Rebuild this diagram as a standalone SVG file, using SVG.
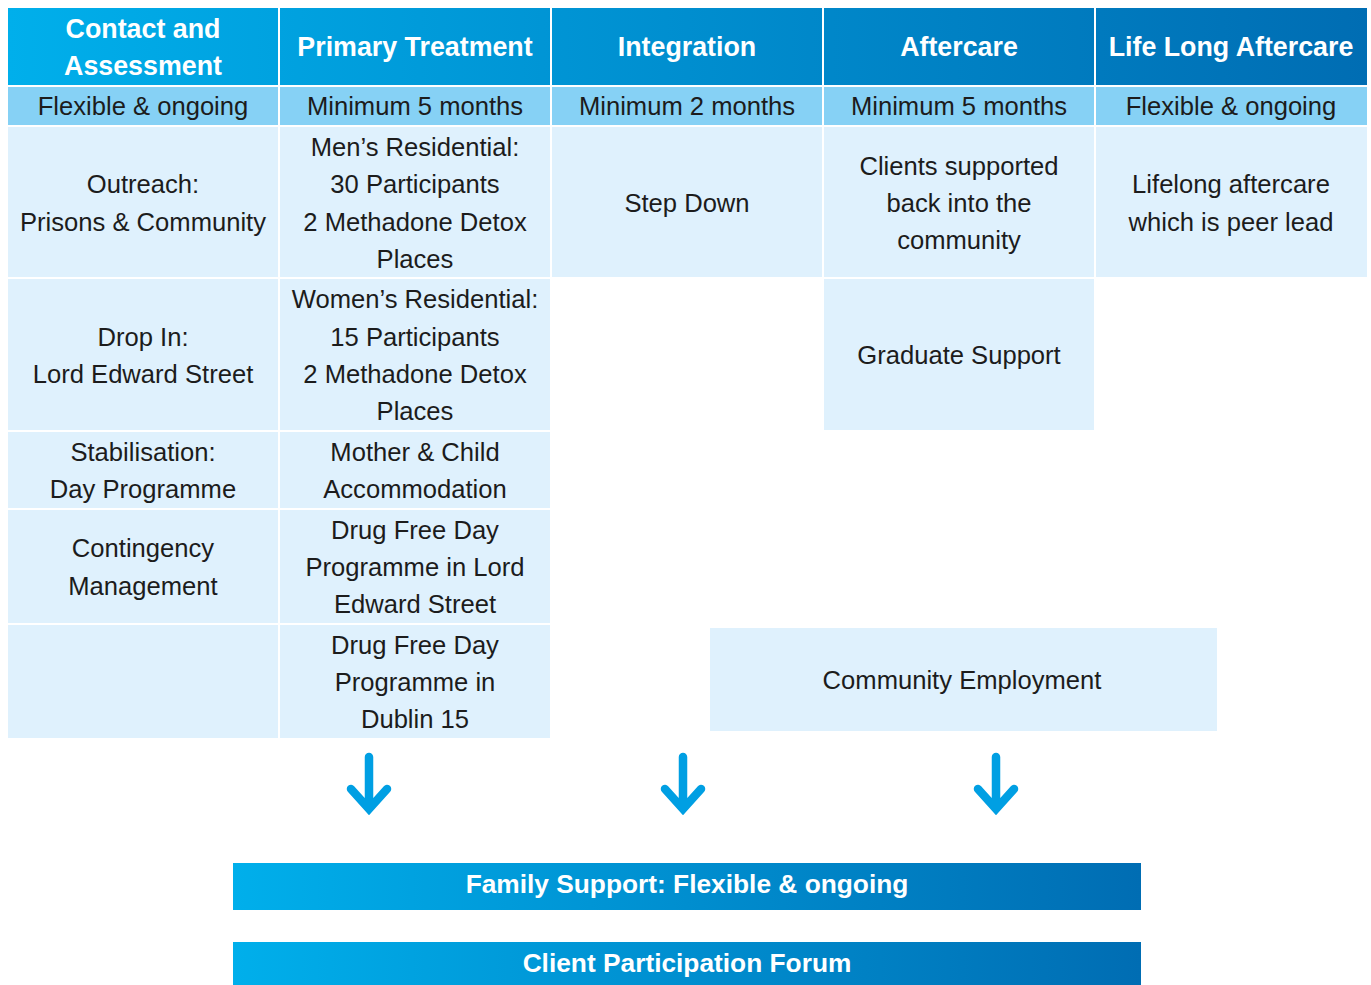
<svg xmlns="http://www.w3.org/2000/svg" width="1371" height="985" viewBox="0 0 1371 985">
<defs>
<linearGradient id="hdr" gradientUnits="userSpaceOnUse" x1="8" y1="0" x2="1367" y2="0">
<stop offset="0" stop-color="#00afeb"/><stop offset="1" stop-color="#006db3"/>
</linearGradient>
<linearGradient id="bar" gradientUnits="userSpaceOnUse" x1="233" y1="0" x2="1141" y2="0">
<stop offset="0" stop-color="#00afeb"/><stop offset="1" stop-color="#006db3"/>
</linearGradient>
<style>
.h{fill:url(#hdr)}
.d{fill:#86d1f5}
.c{fill:#dff1fd}
.ht{font-family:"Liberation Sans",Arial,sans-serif;font-weight:bold;font-size:26.8px;fill:#fff;text-anchor:middle}
.bt{font-family:"Liberation Sans",Arial,sans-serif;font-weight:bold;font-size:26.3px;fill:#fff;text-anchor:middle}
.t{font-family:"Liberation Sans",Arial,sans-serif;font-size:25.6px;fill:#1c1c1c;text-anchor:middle}
.arr{fill:none;stroke:#009fe3;stroke-width:8.5;stroke-linecap:round;stroke-linejoin:miter}
</style>
</defs>
<rect width="1371" height="985" fill="#fff"/>

<g id="header">
<rect class="h" x="8" y="8" width="270" height="77"/>
<rect class="h" x="280" y="8" width="270" height="77"/>
<rect class="h" x="552" y="8" width="270" height="77"/>
<rect class="h" x="824" y="8" width="270" height="77"/>
<rect class="h" x="1096" y="8" width="271" height="77"/>
<text class="ht" x="143" y="38">Contact and</text>
<text class="ht" x="143" y="75">Assessment</text>
<text class="ht" x="415" y="56">Primary Treatment</text>
<text class="ht" x="687" y="56">Integration</text>
<text class="ht" x="959" y="56">Aftercare</text>
<text class="ht" x="1231" y="56">Life Long Aftercare</text>
</g>

<g id="durations">
<rect class="d" x="8" y="87" width="270" height="38"/>
<rect class="d" x="280" y="87" width="270" height="38"/>
<rect class="d" x="552" y="87" width="270" height="38"/>
<rect class="d" x="824" y="87" width="270" height="38"/>
<rect class="d" x="1096" y="87" width="271" height="38"/>
<text class="t" x="143" y="115">Flexible &amp; ongoing</text>
<text class="t" x="415" y="115">Minimum 5 months</text>
<text class="t" x="687" y="115">Minimum 2 months</text>
<text class="t" x="959" y="115">Minimum 5 months</text>
<text class="t" x="1231" y="115">Flexible &amp; ongoing</text>
</g>

<g id="outreach">
<rect class="c" x="8" y="127" width="270" height="150"/>
<text class="t" x="143" y="193">Outreach:</text>
<text class="t" x="143" y="231">Prisons &amp; Community</text>
</g>
<g id="mens-residential">
<rect class="c" x="280" y="127" width="270" height="150"/>
<text class="t" x="415" y="156">Men’s Residential:</text>
<text class="t" x="415" y="193">30 Participants</text>
<text class="t" x="415" y="231">2 Methadone Detox</text>
<text class="t" x="415" y="268">Places</text>
</g>
<g id="step-down">
<rect class="c" x="552" y="127" width="270" height="150"/>
<text class="t" x="687" y="212">Step Down</text>
</g>
<g id="clients-supported">
<rect class="c" x="824" y="127" width="270" height="150"/>
<text class="t" x="959" y="175">Clients supported</text>
<text class="t" x="959" y="212">back into the</text>
<text class="t" x="959" y="249">community</text>
</g>
<g id="lifelong">
<rect class="c" x="1096" y="127" width="271" height="150"/>
<text class="t" x="1231" y="193">Lifelong aftercare</text>
<text class="t" x="1231" y="231">which is peer lead</text>
</g>

<g id="drop-in">
<rect class="c" x="8" y="279" width="270" height="151"/>
<text class="t" x="143" y="346">Drop In:</text>
<text class="t" x="143" y="383">Lord Edward Street</text>
</g>
<g id="womens-residential">
<rect class="c" x="280" y="279" width="270" height="151"/>
<text class="t" x="415" y="308">Women’s Residential:</text>
<text class="t" x="415" y="346">15 Participants</text>
<text class="t" x="415" y="383">2 Methadone Detox</text>
<text class="t" x="415" y="420">Places</text>
</g>
<g id="graduate-support">
<rect class="c" x="824" y="279" width="270" height="151"/>
<text class="t" x="959" y="364">Graduate Support</text>
</g>

<g id="stabilisation">
<rect class="c" x="8" y="432" width="270" height="76"/>
<text class="t" x="143" y="461">Stabilisation:</text>
<text class="t" x="143" y="498">Day Programme</text>
</g>
<g id="mother-child">
<rect class="c" x="280" y="432" width="270" height="76"/>
<text class="t" x="415" y="461">Mother &amp; Child</text>
<text class="t" x="415" y="498">Accommodation</text>
</g>

<g id="contingency">
<rect class="c" x="8" y="510" width="270" height="113"/>
<text class="t" x="143" y="557">Contingency</text>
<text class="t" x="143" y="595">Management</text>
</g>
<g id="drug-free-lord-edward">
<rect class="c" x="280" y="510" width="270" height="113"/>
<text class="t" x="415" y="539">Drug Free Day</text>
<text class="t" x="415" y="576">Programme in Lord</text>
<text class="t" x="415" y="613">Edward Street</text>
</g>

<g id="empty-cell">
<rect class="c" x="8" y="625" width="270" height="113"/>
</g>
<g id="drug-free-dublin15">
<rect class="c" x="280" y="625" width="270" height="113"/>
<text class="t" x="415" y="654">Drug Free Day</text>
<text class="t" x="415" y="691">Programme in</text>
<text class="t" x="415" y="728">Dublin 15</text>
</g>

<g id="community-employment">
<rect class="c" x="710" y="628" width="507" height="103"/>
<text class="t" x="962" y="689">Community Employment</text>
</g>

<g id="connectors">
<path class="arr" d="M369 757V806M351 789L369 809L387 789"/>
<path class="arr" d="M683 757V806M665 789L683 809L701 789"/>
<path class="arr" d="M996 757V806M978 789L996 809L1014 789"/>
</g>

<g id="family-support">
<rect x="233" y="863" width="908" height="47" fill="url(#bar)"/>
<text class="bt" x="687" y="893">Family Support: Flexible &amp; ongoing</text>
</g>
<g id="client-forum">
<rect x="233" y="942" width="908" height="43" fill="url(#bar)"/>
<text class="bt" x="687" y="972">Client Participation Forum</text>
</g>
</svg>
